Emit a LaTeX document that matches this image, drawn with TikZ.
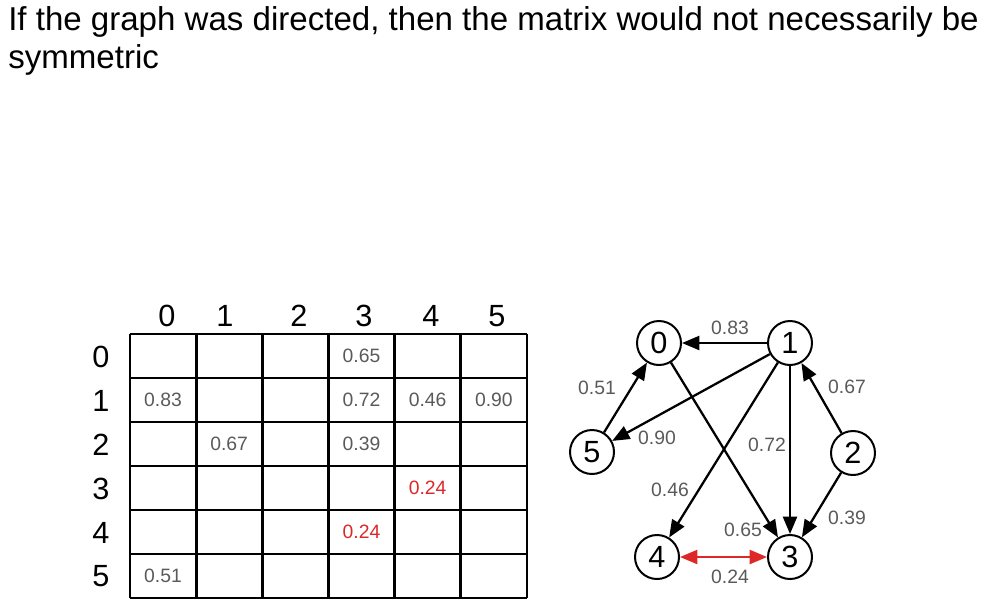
\documentclass[tikz,border=0pt]{standalone}
\usepackage{fontspec}
\setmainfont{Liberation Sans}
\usetikzlibrary{arrows.meta,positioning}
\definecolor{edgered}{RGB}{220,40,40}
\definecolor{valgray}{RGB}{90,90,90}

\begin{document}
\begin{tikzpicture}
            [
            x=0.75pt, y=-0.75pt,
            >={Triangle[length=13pt,width=10.5pt]},
            vertex/.style={circle, draw, line width=1.5pt, minimum size=33pt,
                inner sep=0pt, font=\fontsize{23}{25}\selectfont},
            index/.style={font=\fontsize{23}{25}\selectfont},
            weight/.style={text=valgray, font=\fontsize{14.5}{16}\selectfont, inner sep=1pt},
            edge/.style={->, line width=1.7pt}
            ]
            \useasboundingbox (0,0) rectangle (1003,608);

            % Caption
            \node (title) [anchor=base west, inner sep=0pt, font=\fontsize{24.8}{28}\selectfont]
                at (8,30) {If the graph was directed, then the matrix would not necessarily be};
            \node (title2) [anchor=base west, inner sep=0pt, font=\fontsize{24.8}{28}\selectfont]
                at (8,68) {symmetric};

            % Adjacency matrix
            \foreach \c in {0,...,6}
            \draw [line width=2.2pt] (130+66.17*\c,334) -- (130+66.17*\c,598);
            \foreach \r in {0,...,6}
            \draw [line width=2.2pt] (130,334+44*\r) -- (527,334+44*\r);
            \foreach \c/\x in {0/167,1/225,2/299,3/364,4/431,5/497}
            \node (col\c) [index] at (\x,316) {\c};
            \foreach \r in {0,...,5}
            \node (row\r) [index] at (101,356.5+44*\r) {\r};
            \foreach \r/\c/\v in {0/3/0.65,1/0/0.83,1/3/0.72,1/4/0.46,1/5/0.90,2/1/0.67,2/3/0.39,5/0/0.51}
            \node (m\r\c) [weight] at (163+66.17*\c,356+44*\r) {\v};
            \node (m34) [weight, text=edgered] at (163+66.17*4,356+44*3) {0.24};
            \node (m43) [weight, text=edgered] at (163+66.17*3,356+44*4) {0.24};

            % Directed graph
            \node (v0) [vertex] at (659,343) {0};
            \node (v1) [vertex] at (790,343) {1};
            \node (v2) [vertex] at (853,453) {2};
            \node (v3) [vertex] at (790,557) {3};
            \node (v4) [vertex] at (657,557) {4};
            \node (v5) [vertex] at (592,452) {5};

            \foreach \i/\j in {v1/v0,v5/v0,v1/v5,v0/v3,v1/v4,v1/v3,v2/v1,v2/v3}
            \draw [edge] (\i) -- (\j);
            \draw [edge, <->, edgered] (v4) -- (v3);

            \foreach \n/\x/\y/\v in {w10/730/328/0.83,w50/597/388/0.51,w15/657/438/0.90,
                w03/743/530/0.65,w14/670/490/0.46,w13/767/445/0.72,w21/847/387/0.67,
                w23/847/518/0.39,w43/730/577/0.24}
            \node (\n) [weight] at (\x,\y) {\v};
        \end{tikzpicture}
\end{document}
